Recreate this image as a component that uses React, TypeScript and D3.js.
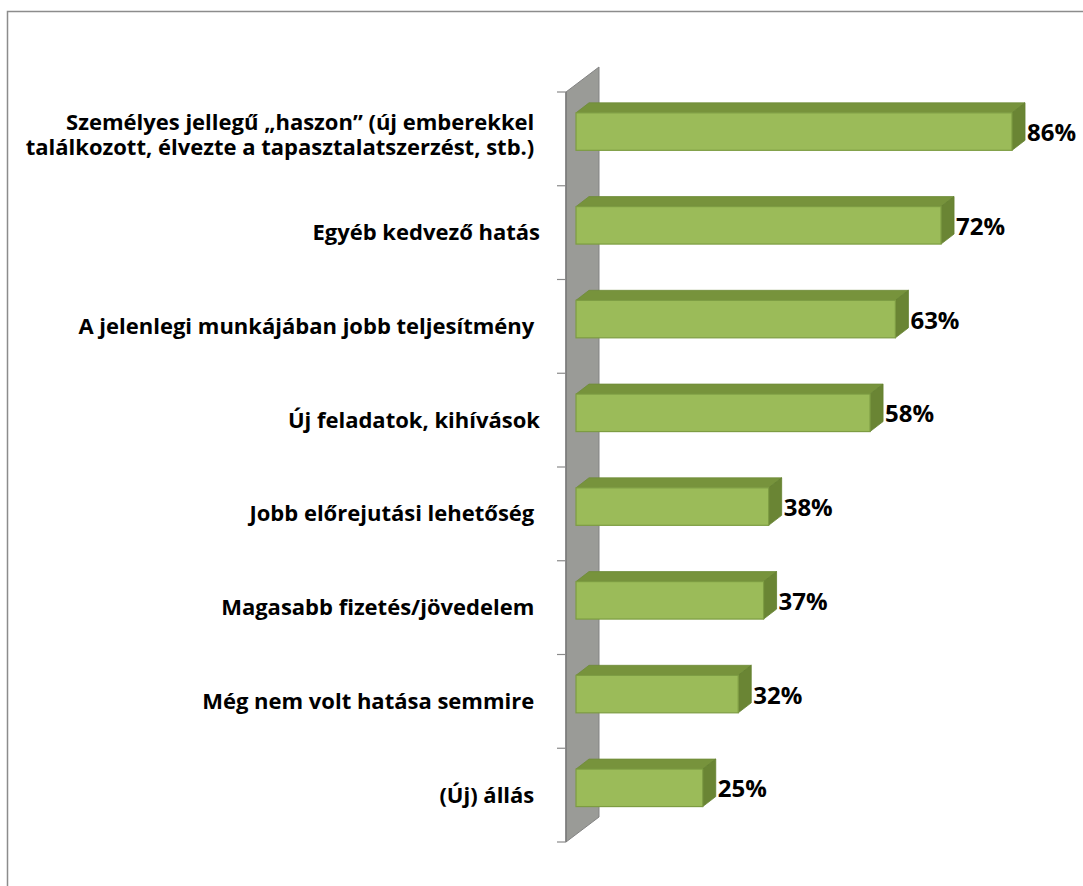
import React from "react";
import * as d3 from "d3";

const categories: string[][] = [
  ["Személyes jellegű „haszon” (új emberekkel ", "találkozott, élvezte a tapasztalatszerzést, stb.) "],
  ["Egyéb kedvező hatás"],
  ["A jelenlegi munkájában jobb teljesítmény "],
  ["Új feladatok, kihívások"],
  ["Jobb előrejutási lehetőség "],
  ["Magasabb fizetés/jövedelem "],
  ["Még nem volt hatása semmire "],
  ["(Új) állás "],
];
const values: number[] = [86, 72, 63, 58, 38, 37, 32, 25];
const valueLabels: string[] = ["86%", "72%", "63%", "58%", "38%", "37%", "32%", "25%"];

const W = 1083;
const H = 886;
const FONT = "'Open Sans', 'Noto Sans', sans-serif";

export default function App() {
  const keys = categories.map((_, i) => String(i));
  // floor-front positions of the category bands
  const y = d3.scaleBand<string>().domain(keys).range([92, 842]).paddingInner(0).paddingOuter(0);
  // value scale on the bars' front face
  const x = d3.scaleLinear().domain([0, 100]).range([576, 1083]);

  const wallX = 566;
  const wallDX = 33;
  const wallDY = -25;
  const barShiftY = -7.3; // front face of bars sits slightly back in depth
  const barH = 37.5;
  const depthX = 13;
  const depthY = -10;

  const wallPath = d3.path();
  wallPath.moveTo(wallX, y.range()[0]);
  wallPath.lineTo(wallX + wallDX, y.range()[0] + wallDY);
  wallPath.lineTo(wallX + wallDX, y.range()[1] + wallDY);
  wallPath.lineTo(wallX, y.range()[1]);
  wallPath.closePath();

  const tickYs = keys.map((k) => y(k)!).concat([y.range()[1]]);

  return (
    <svg
      width={W}
      height={H}
      style={{ position: "absolute", left: 0, top: 0, background: "#ffffff" }}
    >
      <rect x={7.5} y={11.5} width={W + 20} height={H + 20} fill="#ffffff" stroke="#8c8c8c" strokeWidth={1.5} />

      {/* wall */}
      <path d={wallPath.toString()} fill="#9a9b97" stroke="#838383" strokeWidth={1} />
      <line x1={wallX} x2={wallX} y1={y.range()[0]} y2={y.range()[1]} stroke="#7a7a7a" strokeWidth={1.5} />
      {tickYs.map((ty, i) => (
        <line key={i} x1={wallX - 9} x2={wallX} y1={ty} y2={ty} stroke="#8a8a8a" strokeWidth={1.2} />
      ))}

      {/* bars */}
      {values.map((v, i) => {
        const c = y(String(i))! + y.bandwidth() / 2;
        const top = c + barShiftY - barH / 2;
        const x0 = x(0);
        const x1 = x(v);
        const bottom = top + barH;
        const topFace = `M${x0},${top} L${x0 + depthX},${top + depthY} L${x1 + depthX},${top + depthY} L${x1},${top} Z`;
        const sideFace = `M${x1},${top} L${x1 + depthX},${top + depthY} L${x1 + depthX},${bottom + depthY} L${x1},${bottom} Z`;
        return (
          <g key={i}>
            <path d={topFace} fill="#77933c" stroke="#6f8c38" strokeWidth={0.8} strokeLinejoin="round" />
            <path d={sideFace} fill="#6a8534" stroke="#63802f" strokeWidth={0.8} strokeLinejoin="round" />
            <rect x={x0} y={top} width={x1 - x0} height={barH} fill="#9bbb59" stroke="#7d9c42" strokeWidth={1.2} />
            <text
              x={x1 + depthX + 2}
              y={top + barH / 2 + 1}
              dy="0.36em"
              fontFamily={FONT}
              fontWeight="bold"
              fontSize={24}
              fill="#000"
            >
              {valueLabels[i]}
            </text>
          </g>
        );
      })}

      {/* category labels */}
      {categories.map((lines, i) => {
        const c = y(String(i))! + y.bandwidth() / 2;
        const n = lines.length;
        return (
          <text
            key={i}
            textAnchor="end"
            fontFamily={FONT}
            fontWeight="bold"
            fontSize={22}
            fill="#000"
            style={{ whiteSpace: "pre" }}
          >
            {lines.map((ln, k) => (
              <tspan key={k} x={540} y={c + 7.6 + (k - (n - 1) / 2) * 25 - (n > 1 ? 3.5 : 0)}>
                {ln}
              </tspan>
            ))}
          </text>
        );
      })}
    </svg>
  );
}
